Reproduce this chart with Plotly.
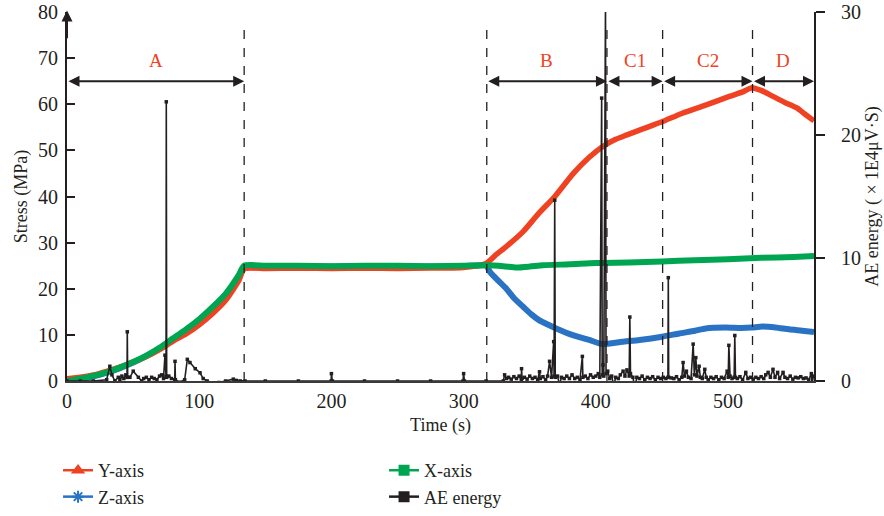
import plotly.graph_objects as go

# ---- stress curves (MPa) ----
t_y = [0, 10, 20, 30, 40, 50, 60, 70, 80, 90, 100, 110, 120, 130, 134,
       150, 175, 200, 225, 250, 275, 300, 317,
       325, 332, 345, 357, 369, 383, 395, 405, 415, 423, 435, 450, 465,
       483, 501, 512, 518, 525, 534, 543, 552, 558, 565]
s_y = [0.5, 0.8, 1.3, 2.1, 3.0, 4.1, 5.3, 6.8, 8.6, 10.2, 12.2, 14.6, 17.5, 21.8, 24.3,
       24.4, 24.5, 24.4, 24.5, 24.4, 24.5, 24.6, 25.5,
       27.5, 29.1, 32.4, 36.4, 40.0, 45.0, 48.5, 50.8, 52.4, 53.3, 54.6, 56.2, 58.0,
       59.8, 61.7, 62.8, 63.6, 63.0, 61.7, 60.4, 59.2, 57.9, 56.4]

t_x = [0, 10, 20, 30, 40, 50, 60, 70, 80, 90, 100, 110, 120, 130, 134,
       150, 175, 200, 225, 250, 275, 300, 317,
       330, 340, 350, 360, 380, 400, 425, 450, 475, 500, 525, 550, 565]
s_x = [0, 0.5, 1.1, 1.9, 2.9, 4.1, 5.5, 7.2, 9.2, 11.2, 13.4, 16.0, 18.9, 23.0, 25.0,
       25.0, 25.0, 24.9, 25.0, 25.0, 24.9, 25.0, 25.1,
       24.9, 24.6, 24.8, 25.1, 25.3, 25.6, 25.7, 25.9, 26.2, 26.4, 26.7, 26.9, 27.1]

t_z = [0, 10, 20, 30, 40, 50, 60, 70, 80, 90, 100, 110, 120, 130, 134,
       150, 175, 200, 225, 250, 275, 300, 317,
       320, 326, 332, 338, 345, 351, 357, 364, 370, 382, 395, 405, 412, 420, 433,
       450, 463, 475, 483, 498, 510, 518, 526, 536, 546, 556, 565]
s_z = [0, 0.4, 1.0, 1.8, 2.8, 4.0, 5.4, 7.0, 9.0, 11.0, 13.2, 15.8, 18.7, 22.8, 24.8,
       24.8, 24.9, 24.8, 24.9, 24.8, 24.8, 24.9, 25.0,
       23.6, 21.8, 20.1, 18.0, 16.1, 14.5, 13.2, 12.2, 11.4, 10.0, 8.9, 8.0, 8.2, 8.5, 8.9,
       9.6, 10.3, 10.9, 11.4, 11.6, 11.5, 11.6, 11.8, 11.6, 11.2, 10.9, 10.6]

# ---- AE energy (x 1E4 uV.S) ----
t_ae = [0, 10, 20, 30, 32.4, 34, 36.2, 38.8, 40, 41.5, 43, 44.5, 45.4, 45.6, 45.9,
        47.6, 50.1, 54, 56.5, 58, 60, 62, 64, 66, 68, 70, 71.6, 73, 74.1, 74.9,
        75.1, 75.4, 77, 79, 81.5, 81.7, 82, 85, 89, 91, 93, 97, 100.6, 103, 106,
        110, 115, 120, 125.8, 128, 131, 134.7, 150, 175, 199.8, 200, 200.7, 225,
        250, 275, 299.5, 300, 300.6, 317, 330,
        331, 332.5, 334, 336, 338, 340, 342, 343.6, 343.8, 344.2, 346, 348, 350,
        352, 354, 356, 357.4, 358, 360, 362, 363.5, 365, 366.5, 368.1, 368.4,
        368.9, 369.3, 371, 372.5, 374, 376, 378, 380, 382, 384, 386, 388, 389.8,
        390.2, 392, 394, 396, 398, 400, 401.8, 403, 404.4, 404.8, 405.4, 406,
        407.3, 407.7, 409, 410.5, 412, 413.5, 415, 417, 418.5, 420.6, 422, 423.5,
        425.2, 425.7, 426.2, 428, 429.5, 431, 433, 435, 437, 439, 441, 443, 445,
        447, 449, 451, 453, 454.5, 454.8, 455.1, 457, 459, 461, 463, 465, 466,
        467, 468.5, 470, 472, 473.6, 474.5, 475.6, 476.5, 478.1, 479, 480.5,
        482.4, 483.5, 485, 487, 489, 491, 493, 495, 497, 499.3, 500.1, 500.6,
        501.5, 503, 504.6, 505.1, 505.6, 507, 509, 511, 513.4, 515, 517, 519,
        521, 523, 525, 527, 528.5, 530.3, 532, 534, 535.5, 537.5, 539, 541.6,
        543, 545, 547, 549, 551, 553, 555, 557, 559, 561, 563, 563.5, 564.5]
e_ae = [0, 0, 0, 0.1, 1.2, 0.5, 0, 0.3, 0.1, 0.4, 0.2, 0.5, 0.3, 4.0, 0.3,
        0.3, 0.8, 0.3, 0, 0.2, 0.3, 0.1, 0.3, 0.2, 0.1, 0.4, 0.5, 0.2, 2.1, 0.4,
        22.7, 0.3, 0.4, 0.2, 0.1, 1.6, 0.1, -0.1, 0.1, 1.76, 1.5, 1.0, 0.67, 0.2, 0,
        -0.15, -0.12, 0, 0.15, 0.05, 0, 0, 0, 0, 0, 0.6, 0, 0,
        0, 0, 0, 0.6, 0, 0, 0,
        0.5, 0.2, 0.3, 0.15, 0.35, 0.2, 0.4, 0.1, 1.0, 0.2, 0.3, 0.15, 0.4,
        0.2, 0.3, 0.1, 0.75, 0.2, 0.35, 0.1, 0.4, 1.6, 0.3, 3.2, 0.4,
        14.7, 0.3, 0.4, -0.3, 0.3, 0.2, 0.4, 0.2, 0.5, 0.2, 0.3, 0.1, 2.0,
        0.3, 0.4, 0.2, 0.5, 0.3, 0.4, 0.6, 0.3, 23.0, 0.5, 1.3, 0.4,
        31.0, 0.6, 0.8, 0.2, 0.4, -0.4, 0.3, 0.2, 0.5, 0.8, 0.4, 0.9,
        0.4, 5.2, 0.6, 0.3, -0.5, 0.3, 0.2, 0.4, 0.1, 0.3, 0.2, 0.35, 0.1,
        0.3, 0.2, 0.3, 0.2, 0.3, 8.4, 0.3, 0.25, 0.2, 0.35, 0.1, 0.3, 1.5,
        0.4, 0.8, 0.3, 0.2, 3.0, 0.5, 1.9, 0.4, 1.2, 0.3, 0.2,
        0.95, 0.3, 0.1, 0.3, 0.2, 0.35, 0.1, 0.3, 0.2, 0.8, 0.3, 2.9,
        0.4, 0.2, 0.3, 3.7, 0.3, 0.2, 0.35, 0.1, 0.7, 0.2, 0.3, 0.15,
        0.3, 0.2, 0.35, 0.2, 0.5, 0.7, 0.3, 0.95, 0.3, 0.7, 0.2, 0.7,
        0.3, 0.2, 0.4, 0.15, 0.3, 0.25, 0.35, 0.2, 0.25, 0.1, 0.6, -0.3, 0.4]

# ---- loading stages ----
stage_bounds = [134, 317.5, 408.4, 450.5, 518.5]
stage_spans = [(0, 134), (317.5, 408.4), (408.4, 450.5), (450.5, 518.5), (518.5, 565)]
stage_labels = ["A", "B", "C1", "C2", "D"]
arrow_level = 65
label_level = 69.5
dash_top = 77.6

RED = "#EF4223"
GREEN = "#00A551"
BLUE = "#2A73C4"
INK = "#231F20"
FONT = "Liberation Serif"

fig = go.Figure()

# stress curves (blue underneath, then red, then green)
fig.add_trace(go.Scatter(x=t_z, y=s_z, mode="lines",
                         line=dict(color=BLUE, width=6, shape="spline", smoothing=0.6),
                         showlegend=False, hoverinfo="skip"))
fig.add_trace(go.Scatter(x=t_y, y=s_y, mode="lines",
                         line=dict(color=RED, width=5.5, shape="spline", smoothing=0.6),
                         showlegend=False, hoverinfo="skip"))
fig.add_trace(go.Scatter(x=t_x, y=s_x, mode="lines",
                         line=dict(color=GREEN, width=6, shape="spline", smoothing=0.6),
                         showlegend=False, hoverinfo="skip"))

# AE energy on the secondary axis
fig.add_trace(go.Scatter(x=t_ae, y=e_ae, yaxis="y2", mode="lines+markers",
                         line=dict(color=INK, width=1.6),
                         marker=dict(symbol="square", size=3.5, color=INK),
                         showlegend=False, hoverinfo="skip"))

# legend entries
legend_items = [
    ("Y-axis", RED, "triangle-up", 9, 1),
    ("X-axis", GREEN, "square", 9, 2),
    ("Z-axis", BLUE, "asterisk-open", 10, 3),
    ("AE energy", INK, "square", 9, 4),
]
for name, color, sym, size, rank in legend_items:
    fig.add_trace(go.Scatter(
        x=[None], y=[None], name=name, mode="lines+markers",
        line=dict(color=color, width=2.5),
        marker=dict(symbol=sym, size=size, color=color,
                    line=dict(color=color, width=2)),
        legendrank=rank))

# stage boundaries
for b in stage_bounds:
    fig.add_shape(type="line", xref="x", yref="y", x0=b, x1=b, y0=0, y1=dash_top,
                  line=dict(color=INK, width=1.3, dash="dash"))

annotations = []
for (a, b), lab in zip(stage_spans, stage_labels):
    annotations.append(dict(
        x=b, y=arrow_level, ax=a, ay=arrow_level, xref="x", yref="y",
        axref="x", ayref="y", text="", showarrow=True,
        arrowhead=2, startarrowhead=2, arrowside="end+start",
        arrowsize=1.1, startarrowsize=1.1, arrowwidth=2, arrowcolor=INK,
        standoff=0, startstandoff=0))
    annotations.append(dict(
        x=(a + b) / 2, y=label_level, xref="x", yref="y", text=lab,
        showarrow=False, font=dict(family=FONT, size=19, color=RED)))

# arrowhead at the top of the stress axis
annotations.append(dict(
    x=0, y=80.3, ax=0, ay=74, xref="x", yref="y", axref="x", ayref="y",
    text="", showarrow=True, arrowhead=2, arrowsize=1.1, arrowwidth=2,
    arrowcolor=INK, standoff=0))

fig.update_layout(
    width=884, height=516,
    margin=dict(l=67, r=70, t=12, b=135, autoexpand=False),
    paper_bgcolor="white", plot_bgcolor="white",
    font=dict(family=FONT, size=18, color=INK),
    annotations=annotations,
    xaxis=dict(
        range=[0, 565], tickvals=[0, 100, 200, 300, 400, 500],
        showgrid=False, zeroline=False, showline=True, linecolor="#3a3a3a",
        linewidth=1.6, ticks="", ticklabelstandoff=1, automargin=False,
        tickfont=dict(size=20),
        title=dict(text="Time (s)", font=dict(size=18), standoff=8),
    ),
    yaxis=dict(
        range=[0, 80], tickvals=list(range(0, 81, 10)),
        showgrid=False, zeroline=False, showline=True, linecolor=INK,
        linewidth=2, ticks="inside", ticklen=8, tickwidth=2, tickcolor=INK,
        ticklabelstandoff=3, automargin=False, tickfont=dict(size=20),
        title=dict(text="Stress (MPa)", font=dict(size=18), standoff=6),
    ),
    yaxis2=dict(
        range=[0, 30], tickvals=[0, 10, 20, 30], overlaying="y", side="right",
        anchor="x", showgrid=False, zeroline=False, showline=True,
        linecolor=INK, linewidth=2, ticks="outside", ticklen=9, tickwidth=2,
        tickcolor=INK, ticklabelstandoff=12, automargin=False,
        tickfont=dict(size=20),
        title=dict(text="AE energy ( × 1E4μV·S)", font=dict(size=18), standoff=5),
    ),
    legend=dict(
        orientation="h", x=-0.012, y=-0.1925, xanchor="left", yanchor="top",
        entrywidth=281, entrywidthmode="pixels", itemwidth=30,
        font=dict(family=FONT, size=18, color=INK), tracegroupgap=0,
        bgcolor="rgba(0,0,0,0)",
    ),
)

fig.write_html("out.html")
